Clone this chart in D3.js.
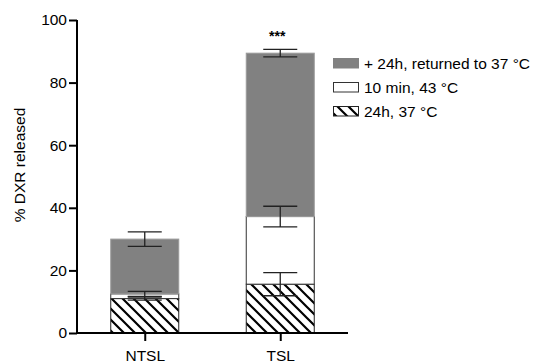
<!DOCTYPE html>
<html><head><meta charset="utf-8">
<script src="https://cdn.jsdelivr.net/npm/d3@7"></script>
<style>body{margin:0;background:#fff}svg{display:block}text{font-family:"Liberation Sans",Arial,sans-serif;fill:#000}</style>
</head><body>
<svg id="c" width="547" height="364"></svg>
<script>
const categories = ["NTSL", "TSL"];
const seriesNames = ["24h, 37 °C", "10 min, 43 °C", "+ 24h, returned to 37 °C"];
const hatchVals = [11.0, 15.6];
const whiteVals = [1.5, 21.6];
const grayVals = [17.5, 52.2];
const hatchErr = [0.5, 3.7];
const whiteErr = [0.8, 3.3];
const grayErr = [2.3, 1.2];
const yTicks = [0, 20, 40, 60, 80, 100];
const sigLabels = ["", "***"];

const svg = d3.select("#c");
const FS = "15.5px";
const y = d3.scaleLinear().domain([0, 100]).range([333, 20]);
const x = d3.scalePoint().domain(categories).range([77, 348]).padding(0.5);
const barW = 68, capW = 34;

const defs = svg.append("defs");
const pat = defs.append("pattern").attr("id", "hatch").attr("patternUnits", "userSpaceOnUse")
  .attr("width", 11).attr("height", 11);
pat.append("rect").attr("width", 11).attr("height", 11).attr("fill", "#fff");
pat.append("path").attr("d", "M-2,-2L13,13M-2,9L2,13M9,-2L13,2").attr("stroke", "#000").attr("stroke-width", 2.2);

const series = [
  {vals: hatchVals, err: hatchErr, fill: "url(#hatch)", stroke: "#222"},
  {vals: whiteVals, err: whiteErr, fill: "#fff", stroke: "#333"},
  {vals: grayVals, err: grayErr, fill: "#818181", stroke: "#9a9a9a"}
];

const g = svg.append("g");
categories.forEach((c, i) => {
  let base = 0;
  const tops = [];
  series.forEach(s => {
    const top = base + s.vals[i];
    g.append("rect").attr("x", x(c) - barW / 2).attr("width", barW)
      .attr("y", y(top)).attr("height", y(base) - y(top))
      .attr("fill", s.fill).attr("stroke", s.stroke).attr("stroke-width", 1);
    tops.push(top);
    base = top;
  });
  series.forEach((s, k) => {
    const m = tops[k], e = s.err[i];
    const eg = g.append("g").attr("stroke", "#222").attr("stroke-width", 1.3);
    eg.append("line").attr("x1", x(c)).attr("x2", x(c)).attr("y1", y(m + e)).attr("y2", y(m - e));
    [m + e, m - e].forEach(v => eg.append("line").attr("x1", x(c) - capW / 2).attr("x2", x(c) + capW / 2)
      .attr("y1", y(v)).attr("y2", y(v)));
  });
  if (sigLabels[i]) {
    svg.append("text").attr("x", x(c) - 3).attr("y", y(tops[2] + grayErr[i]) - 8)
      .attr("text-anchor", "middle").attr("font-size", "14px").attr("font-weight", "bold").text(sigLabels[i]);
  }
});

// Axes
const yAxis = svg.append("g").attr("transform", "translate(77,0)")
  .call(d3.axisLeft(y).tickValues(yTicks).tickSize(8).tickPadding(2));
yAxis.select(".domain").attr("d", `M0,${y(100)}V${y(0)}`).attr("stroke", "#000").attr("stroke-width", 2);
yAxis.selectAll(".tick line").attr("stroke", "#000").attr("stroke-width", 2);
yAxis.selectAll(".tick text").attr("font-size", FS).attr("fill", "#000").attr("font-family", "'Liberation Sans',Arial,sans-serif");

const xAxis = svg.append("g").attr("transform", "translate(0,333)")
  .call(d3.axisBottom(x).tickSize(8).tickPadding(9));
xAxis.select(".domain").attr("d", "M77,0H348").attr("stroke", "#000").attr("stroke-width", 2);
xAxis.selectAll(".tick line").attr("stroke", "#000").attr("stroke-width", 2);
xAxis.selectAll(".tick text").attr("font-size", FS).attr("fill", "#000").attr("font-family", "'Liberation Sans',Arial,sans-serif");

svg.append("text").attr("transform", "translate(25,165) rotate(-90)").attr("text-anchor", "middle")
  .attr("font-size", FS).attr("fill", "#000").text("% DXR released");

// Legend
const legItems = [
  {name: seriesNames[2], fill: "#818181", stroke: "#818181"},
  {name: seriesNames[1], fill: "#fff", stroke: "#333"},
  {name: seriesNames[0], fill: "url(#hatch)", stroke: "#222"}
];
const leg = svg.append("g").attr("transform", "translate(333,58)");
legItems.forEach((d, k) => {
  const gy = k * 24;
  leg.append("rect").attr("x", 0.5).attr("y", gy + 0.5).attr("width", 25).attr("height", 9.5)
    .attr("fill", d.fill).attr("stroke", d.stroke).attr("stroke-width", 1);
  leg.append("text").attr("x", 31).attr("y", gy + 10.5).attr("font-size", FS).attr("fill", "#000").text(d.name);
});
</script>
</body></html>
